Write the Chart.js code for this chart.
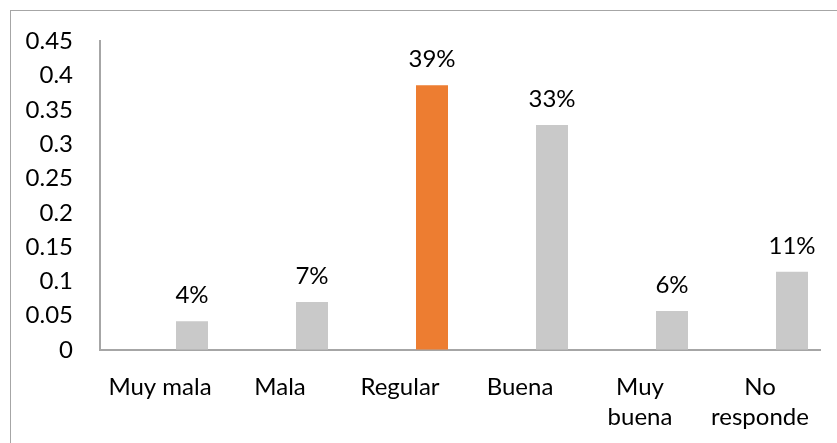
<!DOCTYPE html>
<html>
<head>
<meta charset="utf-8">
<script src="https://cdn.jsdelivr.net/npm/chart.js@4"></script>
<style>
  html, body { margin: 0; padding: 0; background: #fff; overflow: hidden; }
  #wrap { position: relative; width: 837px; height: 443px; }
  #frame { position: absolute; left: 10px; top: 10px; width: 900px; height: 500px;
           border: 1px solid #a6a6a6; box-sizing: border-box; }
  canvas { position: absolute; left: 0; top: 0; }
</style>
</head>
<body>
<div id="wrap">
  <div id="frame"></div>
  <canvas id="myChart" width="837" height="443"></canvas>
</div>
<script>
var categorias = [['Muy mala'], ['Mala'], ['Regular'], ['Buena'], ['Muy', 'buena'], ['No', 'responde']];
var valores = [0.042, 0.07, 0.386, 0.328, 0.057, 0.114];
var vacio = [null, null, null, null, null, null];
var colores = ['#c9c9c9', '#c9c9c9', '#ed7d31', '#c9c9c9', '#c9c9c9', '#c9c9c9'];
var yMax = 0.45;
var yPaso = 0.05;

var fuente = 'Lato, "Open Sans", sans-serif';
Chart.defaults.font.family = fuente;
Chart.defaults.color = '#000';

// etiquetas de porcentaje encima de cada barra
var etiquetas = {
  id: 'etiquetas',
  afterDatasetsDraw: function(chart) {
    var ctx = chart.ctx;
    var meta = chart.getDatasetMeta(1);
    ctx.save();
    ctx.font = '24px ' + fuente;
    ctx.fillStyle = '#000';
    ctx.textAlign = 'center';
    ctx.textBaseline = 'alphabetic';
    meta.data.forEach(function(bar, i) {
      ctx.fillText(Math.round(valores[i] * 100) + '%', bar.x, bar.y - 18);
    });
    ctx.restore();
  }
};

var ctx = document.getElementById('myChart').getContext('2d');
var grafico = new Chart(ctx, {
  type: 'bar',
  data: {
    labels: categorias,
    datasets: [
      { label: 'vacio', data: vacio, backgroundColor: '#c9c9c9' },
      { label: 'Serie', data: valores, backgroundColor: colores }
    ]
  },
  options: {
    responsive: false,
    animation: false,
    categoryPercentage: 1.0667,
    barPercentage: 0.5,
    layout: { padding: { top: 40, right: 17, bottom: 0, left: 0 } },
    plugins: { legend: { display: false }, tooltip: { enabled: false } },
    scales: {
      x: {
        grid: { display: true, drawOnChartArea: false, drawTicks: false },
        border: { display: true, color: '#a6a6a6', width: 2 },
        ticks: { font: { size: 24, lineHeight: 1.25 }, padding: 22, maxRotation: 0, autoSkip: false },
        afterFit: function(s) { s.height = 93; }
      },
      y: {
        min: 0, max: yMax,
        grid: { display: true, drawOnChartArea: false, drawTicks: false },
        border: { display: true, color: '#a6a6a6', width: 2 },
        ticks: {
          stepSize: yPaso, padding: 27, font: { size: 24 },
          callback: function(v) { return String(+v.toFixed(2)); }
        },
        afterFit: function(s) { s.width = 100; }
      }
    }
  },
  plugins: [etiquetas]
});
</script>
</body>
</html>
